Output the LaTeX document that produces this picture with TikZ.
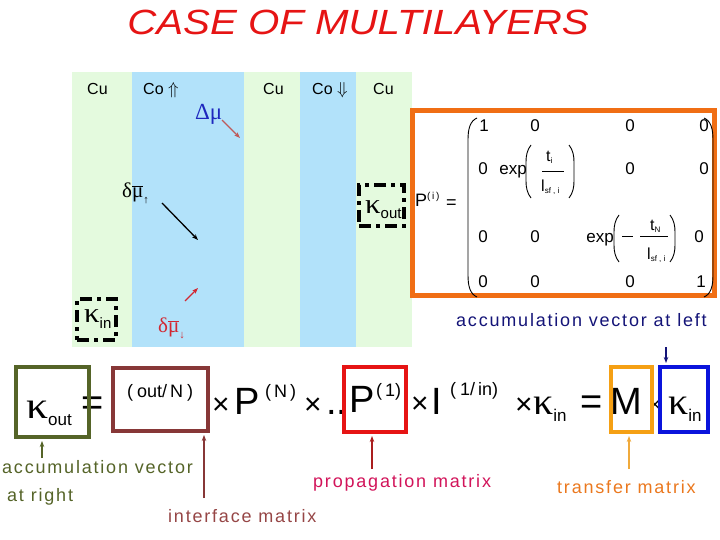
\documentclass[tikz,border=0pt]{standalone}
\usepackage{fontspec}
\setmainfont{Liberation Sans}
\newfontfamily\grk{Liberation Serif}
\newfontfamily\lblf[LetterSpace=10]{Liberation Sans}
\usetikzlibrary{arrows.meta}
\definecolor{cugreen}{RGB}{228,250,222}
\definecolor{coblue}{RGB}{178,226,250}
\definecolor{titlered}{RGB}{230,20,20}
\definecolor{boxorange}{RGB}{240,110,20}
\definecolor{boxolive}{RGB}{85,100,40}
\definecolor{boxbrown}{RGB}{135,55,55}
\definecolor{boxred}{RGB}{230,20,20}
\definecolor{boxamber}{RGB}{245,160,20}
\definecolor{boxblue}{RGB}{10,20,220}
\definecolor{navytxt}{RGB}{20,20,120}
\definecolor{proptxt}{RGB}{210,20,90}
\definecolor{transtxt}{RGB}{235,120,30}
\definecolor{inttxt}{RGB}{150,70,70}
\definecolor{dmublue}{RGB}{30,40,190}
\definecolor{dmuarrow}{RGB}{190,90,90}
\definecolor{dmured}{RGB}{210,40,50}
\definecolor{arrred}{RGB}{170,30,30}
\definecolor{arramber}{RGB}{240,170,60}
\newcommand\bigf{\fontsize{38}{38}\selectfont}
\newcommand\supf{\fontsize{18}{18}\selectfont}
\newcommand\mubar{\ensuremath{\overline{\hbox{\grk μ}}}}
\newcommand\kapw[2]{\scalebox{#2}[1]{\grk\fontsize{#1}{#1}\selectfont κ}}
\begin{document}
\begin{tikzpicture}[x=1pt,y=-1pt,
  cu/.style={font=\fontsize{16}{16}\selectfont, anchor=base west, inner sep=0},
  bigtxt/.style={font=\bigf, anchor=west, inner sep=0},
  multxt/.style={font=\fontsize{30}{30}\selectfont, anchor=west, inner sep=0},
  suptxt/.style={font=\supf, anchor=west, inner sep=0},
  ent/.style={font=\fontsize{17}{17}\selectfont, anchor=base, inner sep=0},
  lab/.style={font=\lblf\fontsize{18}{18}\selectfont, anchor=base west, inner sep=0},
  hbox/.style={draw, line width=4pt, inner sep=0, fill=none},
  ddbox/.style={draw=black, line width=4pt, dash pattern=on 12pt off 5pt on 4pt off 5pt, inner sep=0},
  arr/.style={-{Stealth[length=6pt,width=4.5pt]}, line width=1.3pt},
  paren/.style={line width=0.9pt}]
\useasboundingbox (0,0) rectangle (720,540);
\fill[white] (0,0) rectangle (720,540);
% layers
\fill[cugreen] (72,72) rectangle (132,347);
\fill[coblue] (132,72) rectangle (244,347);
\fill[cugreen] (244,72) rectangle (300,347);
\fill[coblue] (300,72) rectangle (356,347);
\fill[cugreen] (356,72) rectangle (412,347);
% title
\node[font=\itshape\fontsize{35}{35}\selectfont, text=titlered, inner sep=0] (title) at (358,22) {\scalebox{1.15}[1]{CASE OF MULTILAYERS}};
% layer labels
\node[cu] (cu1) at (87,95) {Cu};
\node[cu] (co1) at (143,95) {Co $\Uparrow$};
\node[cu] (cu2) at (263,95) {Cu};
\node[cu] (co2) at (312,95) {Co $\Downarrow$};
\node[cu] (cu3) at (373,95) {Cu};
% chemical potentials
\node[font=\grk\fontsize{23}{23}\selectfont, text=dmublue, anchor=base west, inner sep=0] (dmu) at (195,120) {Δμ};
\coordinate (dmuA) at (222,120);
\coordinate (dmuB) at (240,138);
\draw[arr, dmuarrow] (dmuA) -- (dmuB);
\node[font=\grk\fontsize{21}{21}\selectfont, anchor=base west, inner sep=0] (dup) at (122,197) {δ\mubar\raisebox{-6pt}{\fontsize{11}{11}\selectfont ↑}};
\coordinate (upA) at (162,203);
\coordinate (upB) at (198,240);
\draw[arr, black] (upA) -- (upB);
\node[font=\grk\fontsize{21}{21}\selectfont, text=dmured, anchor=base west, inner sep=0] (ddn) at (158,332) {δ\mubar\raisebox{-6pt}{\fontsize{11}{11}\selectfont ↓}};
\coordinate (dnA) at (185,301);
\coordinate (dnB) at (198,288);
\draw[arr, dmured] (dnA) -- (dnB);
% kappa boxes at top
\node[ddbox, minimum width=45pt, minimum height=41pt] (kob) at (381.5,205.5) {};
\node[inner sep=0, anchor=base west] (kot) at (365,214) {\kapw{28}{1.1}\raisebox{-5pt}{\fontsize{15}{15}\selectfont out}};
\node[ddbox, minimum width=39pt, minimum height=41pt] (kib) at (96.5,319.5) {};
\node[inner sep=0, anchor=base west] (kit) at (84,322) {\kapw{28}{1.1}\raisebox{-6pt}{\fontsize{15}{15}\selectfont in}};
% orange box with matrix
\node[hbox, draw=boxorange, line width=5pt, minimum width=302pt, minimum height=185pt] (pbox) at (563.5,203) {};
\node[inner sep=0, anchor=base west, font=\fontsize{18}{18}\selectfont] (pi) at (415,207) {P\raisebox{7pt}{\fontsize{10}{10}\selectfont (\,i\,)}};
\node[inner sep=0, anchor=base west, font=\fontsize{18}{18}\selectfont] (peq) at (446,209) {=};
\draw[paren] (477,118) .. controls (470,121) and (468,129) .. (468,140) -- (468,275) .. controls (468,286) and (470,294) .. (477,297);
\draw[paren] (704,118) .. controls (711,121) and (713,129) .. (713,140) -- (713,275) .. controls (713,286) and (711,294) .. (704,297);
\node[ent] (m11) at (484,132) {1};
\node[ent] (m12) at (535,132) {0};
\node[ent] (m13) at (630,132) {0};
\node[ent] (m14) at (704,132) {0};
\node[ent] (m21) at (483,175) {0};
\node[ent] (m22) at (513,175) {exp};
\draw[paren] (531,145) .. controls (527,150) and (526,156) .. (526,162) -- (526,181) .. controls (526,187) and (527,193) .. (531,198);
\draw[paren] (569,145) .. controls (573,150) and (574,156) .. (574,162) -- (574,181) .. controls (574,187) and (573,193) .. (569,198);
\node[font=\fontsize{16}{16}\selectfont, inner sep=0, anchor=base west] (f2n) at (546,162) {t\raisebox{-2pt}{\fontsize{8}{8}\selectfont i}};
\draw[line width=0.8pt] (542,171) -- (564,171);
\node[font=\fontsize{16}{16}\selectfont, inner sep=0, anchor=base west] (f2d) at (541,192) {l\raisebox{-2pt}{\fontsize{8}{8}\selectfont sf , i}};
\node[ent] (m23) at (630,175) {0};
\node[ent] (m24) at (704,175) {0};
\node[ent] (m31) at (483,242) {0};
\node[ent] (m32) at (535,242) {0};
\node[ent] (m33) at (600,242) {exp};
\draw[paren] (619,215) .. controls (615,220) and (614,226) .. (614,232) -- (614,245) .. controls (614,251) and (615,257) .. (619,262);
\draw[paren] (670,215) .. controls (674,220) and (675,226) .. (675,232) -- (675,245) .. controls (675,251) and (674,257) .. (670,262);
\draw[line width=0.8pt] (622,236) -- (633,236);
\node[font=\fontsize{16}{16}\selectfont, inner sep=0, anchor=base west] (f3n) at (650,230) {t\raisebox{-2pt}{\fontsize{8}{8}\selectfont N}};
\draw[line width=0.8pt] (640,236) -- (668,236);
\node[font=\fontsize{16}{16}\selectfont, inner sep=0, anchor=base west] (f3d) at (647,259) {l\raisebox{-2pt}{\fontsize{8}{8}\selectfont sf , i}};
\node[ent] (m34) at (699,242) {0};
\node[ent] (m41) at (483,287) {0};
\node[ent] (m42) at (535,287) {0};
\node[ent] (m43) at (630,287) {0};
\node[ent] (m44) at (701,287) {1};
% bottom equation
\node[inner sep=0, anchor=base west] (kout) at (26,418) {\kapw{38}{1.15}\raisebox{-7pt}{\fontsize{17}{17}\selectfont out}};
\node[bigtxt] (eq1) at (81,406) {=};
\node[suptxt] (sOut) at (127,393) {(\hspace{4pt}out/\hspace{3pt}N\hspace{4pt})};
\node[multxt] (x1) at (212,406) {×};
\node[bigtxt] (pN) at (234,401.5) {P};
\node[suptxt] (sN) at (265,393) {(\hspace{3pt}N\hspace{3pt})};
\node[multxt] (x2) at (304,406) {×};
\node[bigtxt] (dots) at (326,412) {..};
\node[bigtxt] (p1) at (349,399) {P};
\node[suptxt] (s1) at (376,392) {(\hspace{3pt}1)};
\node[multxt] (x3) at (411,405) {×};
\node[bigtxt] (iI) at (431,401) {I};
\node[suptxt] (s1in) at (450,391) {(\hspace{4pt}1/\hspace{3pt}in)};
\node[multxt] (x4) at (515,406) {×};
\node[inner sep=0, anchor=base west] (kin) at (533,414) {\kapw{38}{1.05}\raisebox{-7pt}{\fontsize{17}{17}\selectfont in}};
\node[bigtxt] (eq2) at (580,405) {=};
\node[bigtxt] (mM) at (610,401) {M};
\node[font=\fontsize{20}{20}\selectfont, inner sep=0] (x5) at (655,406) {×};
\node[inner sep=0, anchor=base west] (kin2) at (668,414) {\kapw{38}{1.05}\raisebox{-7pt}{\fontsize{17}{17}\selectfont in}};
% boxes
\node[hbox, draw=boxolive, minimum width=73pt, minimum height=70pt] (bG) at (52.5,402) {};
\node[hbox, draw=boxbrown, minimum width=95pt, minimum height=63pt] (bB) at (160.5,399.5) {};
\node[hbox, draw=boxred, minimum width=62pt, minimum height=65pt] (bR) at (375,399.5) {};
\node[hbox, draw=boxamber, minimum width=41pt, minimum height=65pt] (bM) at (631.5,399.5) {};
\node[hbox, draw=boxblue, minimum width=48pt, minimum height=65pt] (bK) at (684,399.5) {};
% labels
\node[lab, text=navytxt] (lLeft) at (456,326) {accumulation vector at left};
\node[lab, text=boxolive] (lRight1) at (2,473) {accumulation vector};
\node[lab, text=boxolive] (lRight2) at (7,501) {at right};
\node[lab, text=inttxt] (lInt) at (168,522) {interface matrix};
\node[lab, text=proptxt] (lProp) at (313,487) {propagation matrix};
\node[lab, text=transtxt] (lTrans) at (557,493) {transfer matrix};
% arrows to boxes
\coordinate (aG) at (42,458);
\draw[arr, boxolive, shorten >=2pt] (aG) -- (aG |- bG.south);
\coordinate (aB) at (204,498);
\draw[arr, boxbrown, shorten >=2pt] (aB) -- (aB |- bB.south);
\coordinate (aR) at (372,469);
\draw[arr, arrred, shorten >=2pt] (aR) -- (aR |- bR.south);
\coordinate (aM) at (629,469);
\draw[arr, arramber, shorten >=2pt] (aM) -- (aM |- bM.south);
\coordinate (aK) at (666,347);
\draw[arr, navytxt, shorten >=2pt] (aK) -- (aK |- bK.north);
\end{tikzpicture}
\end{document}
